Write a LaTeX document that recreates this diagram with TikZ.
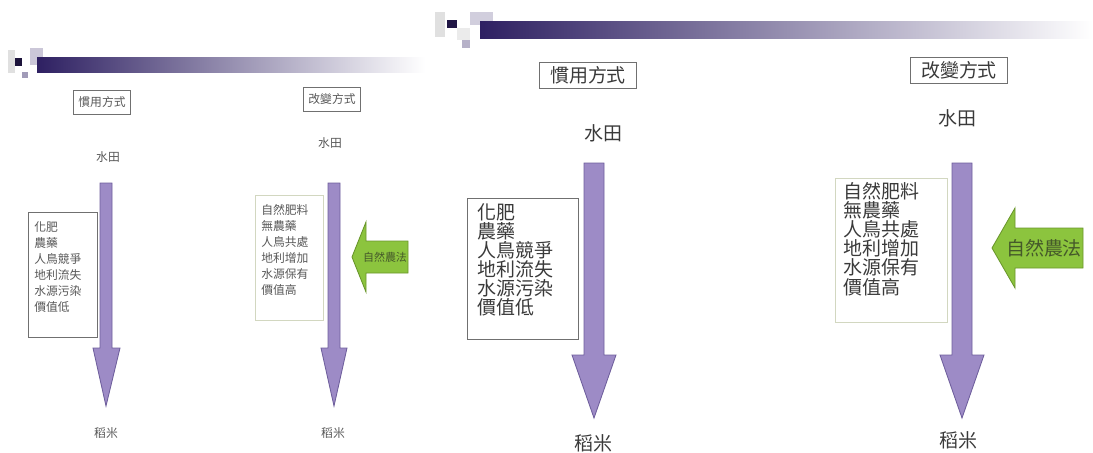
\documentclass[tikz,border=0pt]{standalone}
\usepackage{fontspec}
\newfontfamily\cjk{Noto Sans CJK TC}
\usetikzlibrary{positioning}
\definecolor{HeadPurple}{HTML}{2E2062}
\definecolor{ArrowPurple}{HTML}{9D8BC6}
\definecolor{ArrowEdge}{HTML}{6E5E9C}
\definecolor{LeafGreen}{HTML}{8CC43E}
\definecolor{LeafEdge}{HTML}{6A962C}
\definecolor{LeafText}{HTML}{45592A}
\definecolor{GreyText}{HTML}{3A3A3A}
\definecolor{BoxEdge}{HTML}{707070}
\definecolor{PaleEdge}{HTML}{D2D7C0}

\tikzset{
  bigtext/.style={font=\cjk\fontsize{13.5}{13.6}\selectfont, text=GreyText, inner sep=0pt, align=left},
  smalltext/.style={font=\cjk\fontsize{8.4}{11.4}\selectfont, text=GreyText!85, inner sep=0pt, align=left},
  bigtitle/.style={bigtext, draw=BoxEdge, line width=0.7pt, minimum width=2.42cm, minimum height=0.65cm},
  smalltitle/.style={smalltext, draw=BoxEdge, line width=0.5pt, minimum width=1.43cm, minimum height=0.6cm},
  downarrow/.style={fill=ArrowPurple, draw=ArrowEdge, line width=0.6pt, line join=miter},
  leafarrow/.style={fill=LeafGreen, draw=LeafEdge, line width=0.6pt},
}

\begin{document}
\begin{tikzpicture}[x=0.025cm, y=-0.025cm]
  \useasboundingbox (0,0) rectangle (1093,453);

  % small slide: header
  \fill[black!12] (8,50) rectangle (15,73);
  \fill[HeadPurple!60!black] (15,58) rectangle (22,66);
  \fill[HeadPurple!25] (30,48) rectangle (43,65);
  \fill[HeadPurple!45] (22,72) rectangle (28,78);
  \shade[left color=HeadPurple, middle color=HeadPurple!35, right color=white] (37,58) rectangle (425,73);

  % small slide: titles
  \node[smalltitle] (oldheadsmall) at (102,102) {慣用方式};
  \node[smalltitle] (newheadsmall) at (332,99) {改變方式};
  \node[smalltext] (oldfieldsmall) at (108,157) {水田};
  \node[smalltext] (newfieldsmall) at (330,143) {水田};
  \node[smalltext] (oldricesmall) at (106,433) {稻米};
  \node[smalltext] (newricesmall) at (333,433) {稻米};

  % small slide: arrows
  \filldraw[downarrow] (100,183) -- (112,183) -- (112,348) -- (120,348) -- (106,406) -- (93,348) -- (100,348) -- cycle;
  \filldraw[downarrow] (328,183) -- (340,183) -- (340,348) -- (347,348) -- (334,406) -- (321,348) -- (328,348) -- cycle;
  \filldraw[leafarrow] (352,257) -- (366,222) -- (366,241) -- (408,241) -- (408,273) -- (366,273) -- (366,292) -- cycle;
  \node[smalltext, font=\cjk\fontsize{7.8}{9}\selectfont, text=LeafText] (natsmall) at (385,257) {自然農法};

  % small slide: lists
  \draw[BoxEdge, line width=0.5pt] (28,212) rectangle (97,337);
  \node[smalltext, anchor=north west] (oldlistsmall) at (34,221) {化肥\\農藥\\人鳥競爭\\地利流失\\水源污染\\價值低};
  \draw[PaleEdge, line width=0.5pt] (255,195) rectangle (323,320);
  \node[smalltext, anchor=north west] (newlistsmall) at (261,204) {自然肥料\\無農藥\\人鳥共處\\地利增加\\水源保有\\價值高};

  % large slide: header
  \fill[black!12] (435,12) rectangle (445,37);
  \fill[HeadPurple!70!black] (447,20) rectangle (457,28);
  \fill[HeadPurple!22] (470,12) rectangle (493,25);
  \fill[HeadPurple!35] (462,40) rectangle (470,48);
  \fill[black!8] (457,28) rectangle (470,40);
  \shade[left color=HeadPurple, middle color=HeadPurple!35, right color=white] (480,22) rectangle (1093,39);

  % large slide: titles
  \node[bigtitle] (oldhead) at (588,75) {慣用方式};
  \node[bigtitle] (newhead) at (959,70) {改變方式};
  \node[bigtext] (oldfield) at (603,133) {水田};
  \node[bigtext] (newfield) at (957,118) {水田};
  \node[bigtext] (oldrice) at (593,443) {稻米};
  \node[bigtext] (newrice) at (958,440) {稻米};

  % large slide: arrows
  \filldraw[downarrow] (584,163) -- (604,163) -- (604,355) -- (616,355) -- (594,418) -- (572,355) -- (584,355) -- cycle;
  \filldraw[downarrow] (952,163) -- (972,163) -- (972,355) -- (984,355) -- (962,418) -- (940,355) -- (952,355) -- cycle;
  \filldraw[leafarrow] (992,248) -- (1015,208) -- (1015,228) -- (1083,228) -- (1083,268) -- (1015,268) -- (1015,288) -- cycle;
  \node[bigtext, text=LeafText] (natural) at (1044,248) {自然農法};

  % large slide: lists
  \draw[BoxEdge, line width=0.7pt] (467,198) rectangle (578,339);
  \node[bigtext, anchor=north west] (oldlist) at (477,203) {化肥\\農藥\\人鳥競爭\\地利流失\\水源污染\\價值低};
  \draw[PaleEdge, line width=0.7pt] (835,178) rectangle (947,322);
  \node[bigtext, anchor=north west] (newlist) at (843,182) {自然肥料\\無農藥\\人鳥共處\\地利增加\\水源保有\\價值高};
\end{tikzpicture}
\end{document}
